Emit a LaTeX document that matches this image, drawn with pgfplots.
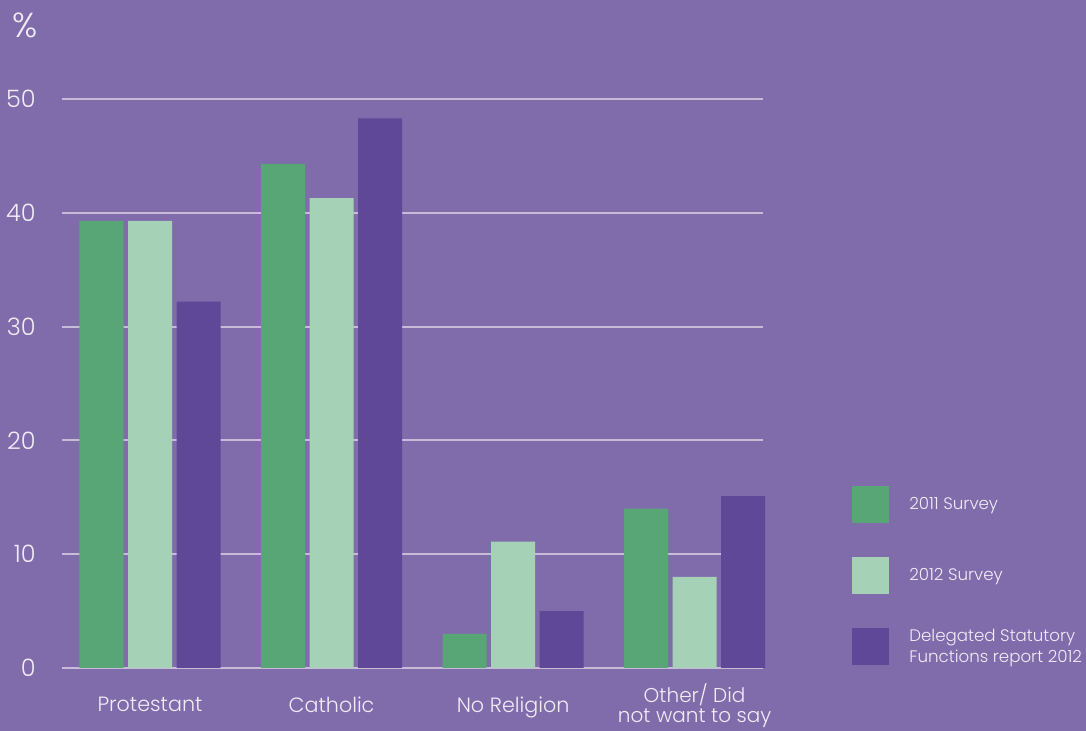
\documentclass[border=0pt]{standalone}
\usepackage{fontspec}
\setmainfont{Poppins}[UprightFont=* Light]
\usepackage{pgfplots}
\pgfplotsset{compat=1.18}
\definecolor{bg}{HTML}{806CAB}
\definecolor{gridc}{HTML}{C6BCDA}
\definecolor{gA}{HTML}{58A676}
\definecolor{gB}{HTML}{A5D1B7}
\definecolor{pC}{HTML}{5F4897}
\definecolor{txt}{HTML}{F0ECF6}
\begin{document}
\begin{tikzpicture}
\path[use as bounding box, fill=bg] (0,0) rectangle (814.5pt,548.25pt);
\begin{axis}[
  at={(46.5pt,47.25pt)}, anchor=south west,
  scale only axis, width=525.75pt, height=426.75pt,
  xmin=-0.485, xmax=3.377, ymin=0, ymax=50,
  ybar=3.4pt, bar width=33pt,
  axis line style={draw=none},
  tick style={draw=none},
  ymajorgrids, major grid style={line width=1.5pt, color=gridc},
  ytick={0,10,20,30,40,50},
  xtick={0,1,2},
  xticklabels={Protestant,Catholic,No Religion},
  extra x ticks={3},
  extra x tick labels={{Other/ Did\\not want to say}},
  extra x tick style={xticklabel style={yshift=10pt, font=\fontsize{15}{15}\selectfont}, grid=none},
  /pgf/number format/assume math mode=true,
  yticklabel style={anchor=east, inner sep=0pt, xshift=-19.5pt, font=\fontsize{18}{18}\selectfont, text=txt},
  xticklabel style={anchor=north, inner sep=0pt, yshift=-17pt, align=center, font=\fontsize{15.5}{17}\selectfont, text=txt},
  legend style={at={(1.127,0.3199)}, anchor=north west, draw=none, fill=none,
    inner sep=0pt, font=\fontsize{12.5}{16}\selectfont, text=txt,
    row sep=25.5pt, column sep=15pt, nodes={inner sep=0pt, align=left}},
  legend cell align=left,
  legend image code/.code={\fill[#1] (0pt,-13.875pt) rectangle (27.75pt,13.875pt);},
  clip=false,
]
\addplot[fill=gA, draw=none] coordinates {(0,39.3) (1,44.3) (2,3.0) (3,14.0)};
\addlegendentry{2011 Survey}
\addplot[fill=gB, draw=none] coordinates {(0,39.3) (1,41.3) (2,11.1) (3,8.0)};
\addlegendentry{2012 Survey}
\addplot[fill=pC, draw=none] coordinates {(0,32.2) (1,48.3) (2,5.0) (3,15.1)};
\addlegendentry{Delegated Statutory\\Functions report 2012}
\node[anchor=west, inner sep=0pt, text=txt, font=\fontsize{26}{26}\selectfont] at (rel axis cs:-0.0713,1.130) {\%};
\end{axis}
\end{tikzpicture}
\end{document}
